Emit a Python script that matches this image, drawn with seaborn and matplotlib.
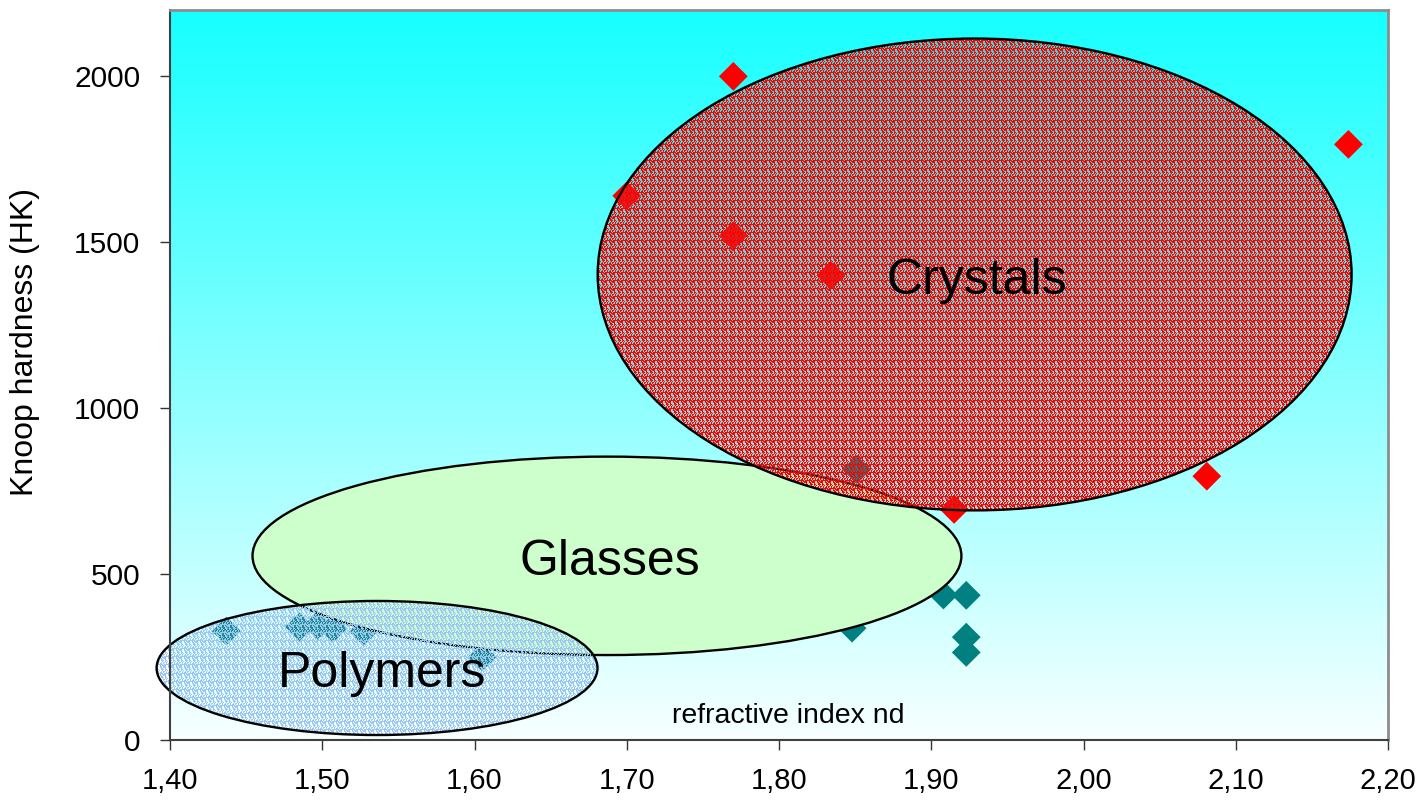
import numpy as np
import pandas as pd
import matplotlib
matplotlib.use("Agg")
import matplotlib.pyplot as plt
from matplotlib.patches import Ellipse
import seaborn as sns

# Measured materials: refractive index nd vs Knoop hardness HK
crystal_nd = [1.770, 1.700, 1.770, 1.834, 2.174, 2.081, 1.915]
crystal_hk = [2000, 1640, 1520, 1400, 1795, 795, 695]

other_nd = [1.437, 1.485, 1.497, 1.507, 1.527, 1.605, 1.848, 1.851, 1.908, 1.923, 1.923, 1.923]
other_hk = [328, 341, 345, 336, 327, 250, 337, 815, 437, 436, 310, 264]

x_ticks = [1.40, 1.50, 1.60, 1.70, 1.80, 1.90, 2.00, 2.10, 2.20]
x_tick_labels = ["1,40", "1,50", "1,60", "1,70", "1,80", "1,90", "2,00", "2,10", "2,20"]
y_ticks = [0, 500, 1000, 1500, 2000]
y_tick_labels = ["0", "500", "1000", "1500", "2000"]

# Material-class regions: (label, centre nd, centre HK, full width, full height)
region_names = ["Crystals", "Glasses", "Polymers"]
region_centres = [(1.9285, 1403), (1.687, 555), (1.536, 217)]
region_sizes = [(0.4952, 1422), (0.4656, 598), (0.2896, 404)]
label_positions = [(1.930, 1344), (1.689, 496), (1.5396, 159)]

df = pd.DataFrame({
    "nd": crystal_nd + other_nd,
    "hk": crystal_hk + other_hk,
    "group": ["crystal"] * len(crystal_nd) + ["other"] * len(other_nd),
})

sns.set_style("white")
plt.rcParams["font.family"] = ["Liberation Sans", "DejaVu Sans"]
plt.rcParams["text.color"] = "black"
plt.rcParams["axes.labelcolor"] = "black"
plt.rcParams["xtick.color"] = "black"
plt.rcParams["ytick.color"] = "black"

fig = plt.figure(figsize=(14.23, 8.02), dpi=100)
ax = fig.add_axes([170 / 1423, 62 / 802, 1218 / 1423, 730 / 802])

XLIM = (1.40, 2.20)
YLIM = (0, 2200)

# cyan-to-white vertical gradient background
top_rgb = np.array([22, 255, 255]) / 255
bot_rgb = np.array([248, 255, 255]) / 255
t = np.linspace(0, 1, 512)[:, None]
grad = bot_rgb[None, :] * (1 - t) + top_rgb[None, :] * t
grad = np.repeat(grad[:, None, :], 2, axis=1)
ax.imshow(grad, extent=[0, 1, 0, 1], transform=ax.transAxes, origin="lower",
          aspect="auto", zorder=0, interpolation="bilinear")

sns.scatterplot(data=df, x="nd", y="hk", hue="group",
                palette={"crystal": "#ff0000", "other": "#008080"},
                marker="D", s=215, linewidth=0, legend=False, zorder=2, ax=ax)

ax.set_xlim(*XLIM)
ax.set_ylim(*YLIM)


def speckle(h, w, rgb, density, hole_rgba, tile=8):
    """Repeating dithered tile: coloured pixels mixed with see-through holes."""
    i, j = np.indices((tile, tile), dtype=np.int64)
    v = ((i * 73856093) ^ (j * 19349663) ^ (i * j * 83492791)) % 1000
    tmask = (v / 1000.0) < density
    reps = (h // tile + 1, w // tile + 1)
    mask = np.tile(tmask, reps)[:h, :w]
    img = np.zeros((h, w, 4))
    img[..., :3] = hole_rgba[:3]
    img[..., 3] = hole_rgba[3]
    img[mask, :3] = rgb
    img[mask, 3] = 1.0
    return img


def textured_ellipse(centre, size, rgb, density, hole_rgba, z):
    cx, cy = centre
    w, h = size
    ell = Ellipse(centre, w, h, facecolor="none", edgecolor="black",
                  linewidth=1.7, zorder=z + 0.1, clip_on=False)
    ax.add_patch(ell)
    x0, x1 = cx - w / 2, cx + w / 2
    y0, y1 = cy - h / 2, cy + h / 2
    p = ax.transData.transform([[x0, y0], [x1, y1]])
    npx = max(int(round(abs(p[1, 0] - p[0, 0]))), 2)
    npy = max(int(round(abs(p[1, 1] - p[0, 1]))), 2)
    tex = speckle(npy, npx, rgb, density, hole_rgba)
    im = ax.imshow(tex, extent=[x0, x1, y0, y1], origin="lower", aspect="auto",
                   interpolation="nearest", zorder=z)
    im.set_clip_path(ell)
    im.set_clip_box(fig.bbox)
    return ell


# Glasses: solid pale green (drawn above the markers)
glass = Ellipse(region_centres[1], *region_sizes[1], facecolor="#ccffcc",
                edgecolor="black", linewidth=1.7, zorder=3)
ax.add_patch(glass)

# Crystals: red speckle over a faint grey
textured_ellipse(region_centres[0], region_sizes[0], np.array([1.0, 0.0, 0.0]), 0.55,
                 np.array([0.45, 0.5, 0.5, 0.28]), 4)

# Polymers: light blue speckle
textured_ellipse(region_centres[2], region_sizes[2], np.array([0.60, 0.78, 0.95]), 0.55,
                 np.array([1.0, 1.0, 1.0, 0.12]), 5)

ax.set_xlim(*XLIM)
ax.set_ylim(*YLIM)

for name, (lx, ly) in zip(region_names, label_positions):
    ax.text(lx, ly, name, fontsize=36, ha="center", va="baseline", zorder=10,
            color="black")

ax.set_xticks(x_ticks)
ax.set_xticklabels(x_tick_labels)
ax.set_yticks(y_ticks)
ax.set_yticklabels(y_tick_labels)
ax.tick_params(axis="x", direction="out", length=7.5, width=1.0, color="#333333",
               labelsize=21, pad=12, bottom=True, labelcolor="black")
ax.tick_params(axis="y", direction="out", length=7.5, width=1.0, color="#333333",
               labelsize=21.5, pad=14, left=True, labelcolor="black")

ax.set_xlabel("refractive index nd", fontsize=20.5)
ax.xaxis.set_label_coords((788 - 170) / 1218, (740 - 723) / 730)
ax.xaxis.label.set_va("baseline")
ax.set_ylabel("Knoop hardness (HK)", fontsize=23)
ax.yaxis.set_label_coords((25 - 170) / 1218, (740 - 342) / 730)
ax.yaxis.label.set_va("center")

for side in ("left", "bottom"):
    ax.spines[side].set_color("#404040")
    ax.spines[side].set_linewidth(1.5)
for side in ("top", "right"):
    ax.spines[side].set_color("#8c8c8c")
    ax.spines[side].set_linewidth(2.0)
for sp in ax.spines.values():
    sp.set_zorder(11)

fig.savefig("out.png", dpi=100)
